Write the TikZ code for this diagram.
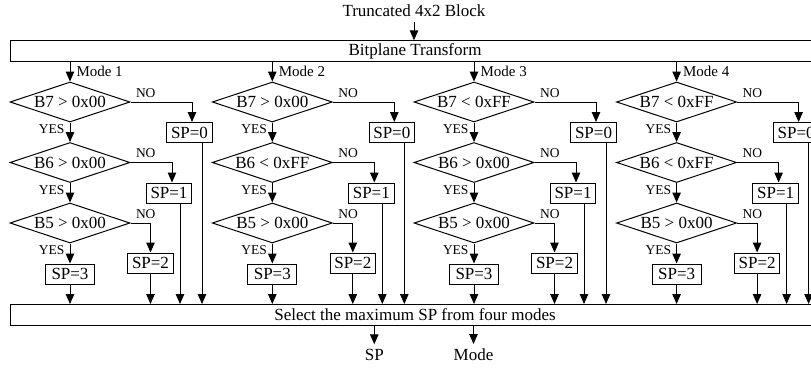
\documentclass[tikz,border=0pt]{standalone}
\usepackage{fontspec}
\setmainfont{Liberation Serif}
\usetikzlibrary{arrows.meta, shapes.geometric}

% one mode column: #1 mode, #2 x of axis, #3 #4 #5 tests on B7 B6 B5
\newcommand{\modecol}[5]{%
  \node[cond] (m#1b7) at (#2,102) {#3};
  \node[cond] (m#1b6) at (#2,162.5) {#4};
  \node[cond] (m#1b5) at (#2,223) {#5};
  \node[spbox] (m#1s0) at (#2+119.5,132.5) {SP=0};
  \node[spbox] (m#1s1) at (#2+99,193) {SP=1};
  \node[spbox] (m#1s2) at (#2+80.5,263) {SP=2};
  \node[spbox, minimum width=49pt] (m#1s3) at (#2,274) {SP=3};
  \draw[->] (bit.south -| m#1b7.north) -- (m#1b7.north)
    node[lab, font=\fontsize{15}{18}\selectfont, midway, anchor=west,
      xshift=5pt] (m#1lab) {Mode #1};
  % yes branch
  \draw[->] (m#1b7.south) -- (m#1b6.north) node[yes] (m#1y7) {YES};
  \draw[->] (m#1b6.south) -- (m#1b5.north) node[yes] (m#1y6) {YES};
  \draw[->] (m#1b5.south) -- (m#1s3.north) node[yes] (m#1y5) {YES};
  % no branch
  \draw[->] (m#1b7.east) -| ([xshift=2.5pt]m#1s0.north) node[no] (m#1n7) {NO};
  \draw[->] (m#1b6.east) -| ([xshift=3pt]m#1s1.north) node[no] (m#1n6) {NO};
  \draw[->] (m#1b5.east) -| (m#1s2.north) node[no] (m#1n5) {NO};
  % down to the selector
  \draw[->] (m#1s3.south) -- (m#1s3.south |- sel.north);
  \draw[->] (m#1s2.south) -- (m#1s2.south |- sel.north);
  \draw[->] ([xshift=11pt]m#1s1.south) coordinate (m#1e1) -- (m#1e1 |- sel.north);
  \draw[->] ([xshift=12.5pt]m#1s0.south) coordinate (m#1e0) -- (m#1e0 |- sel.north);
}

\begin{document}
\begin{tikzpicture}[x=1pt, y=-1pt, line width=1pt,
    >={Triangle[length=10pt, width=8.5pt]},
    font=\fontsize{17}{20}\selectfont,
    cond/.style={draw, shape=diamond, aspect=3, minimum width=120pt,
      minimum height=40pt, inner sep=0pt},
    spbox/.style={draw, minimum width=45.5pt, minimum height=20pt, inner sep=0pt},
    bar/.style={draw, minimum width=810pt, minimum height=20.5pt, inner sep=0pt},
    lab/.style={font=\fontsize{13.5}{16}\selectfont, inner sep=1pt},
    yes/.style={lab, pos=0, anchor=north east, xshift=-4pt, yshift=-1pt},
    no/.style={lab, pos=0, anchor=south west, xshift=4pt, yshift=3pt},
    txt/.style={inner sep=4.5pt}]
  \useasboundingbox (0,0) rectangle (811,367);

  \node[txt] (blk) at (414,11) {Truncated 4x2 Block};
  \node[bar] (bit) at (415,51) {Bitplane Transform};
  \node[bar] (sel) at (415,314.75) {Select the maximum SP from four modes};
  \draw[->] (blk.south) -- (blk.south |- bit.north);

  \foreach \m/\x/\ca/\cb/\cc in {
      1/70/{B7 > 0x00}/{B6 > 0x00}/{B5 > 0x00},
      2/272.3/{B7 > 0x00}/{B6 < 0xFF}/{B5 > 0x00},
      3/474/{B7 < 0xFF}/{B6 > 0x00}/{B5 > 0x00},
      4/676.6/{B7 < 0xFF}/{B6 < 0xFF}/{B5 > 0x00}}
    \modecol{\m}{\x}{\ca}{\cb}{\cc};

  \node[txt] (osp) at (374.3,355) {SP};
  \node[txt] (omode) at (473.5,355) {Mode};
  \draw[->] (sel.south -| osp.north) -- (osp.north);
  \draw[->] (sel.south -| omode.north) -- (omode.north);
\end{tikzpicture}
\end{document}
